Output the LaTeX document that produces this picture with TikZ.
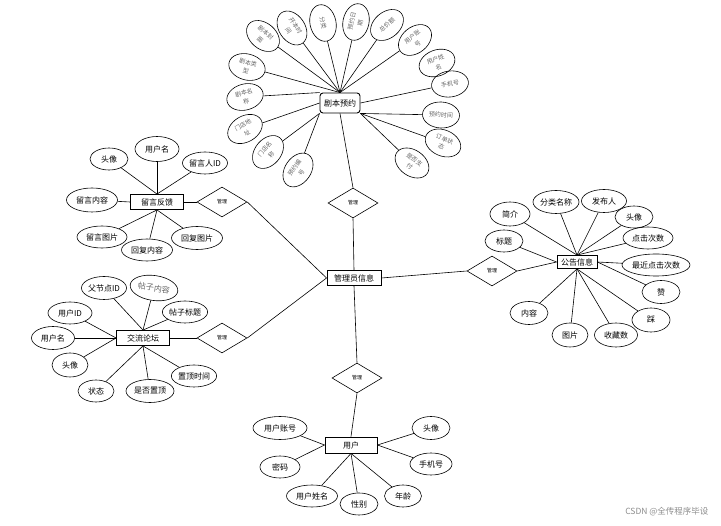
\documentclass[tikz,border=0pt]{standalone}
\usepackage{fontspec}
\newfontfamily\cjk{Noto Sans CJK SC}
\usetikzlibrary{shapes.geometric}
\begin{document}
\begin{tikzpicture}[x=1pt,y=-1pt,
  ent/.style={draw, line width=0.9pt, fill=white, inner sep=0pt, font=\cjk\fontsize{8}{9}\selectfont},
  att/.style 2 args={ellipse, draw, line width=0.6pt, minimum width=#1pt, minimum height=#2pt, inner sep=0pt, font=\cjk\fontsize{8}{9}\selectfont},
  tatt/.style={ellipse, draw, line width=0.6pt, minimum width=37pt, minimum height=26pt, inner sep=0pt, align=center, font=\cjk\fontsize{6}{8.6}\selectfont, text=black!60},
  rel/.style={diamond, draw, line width=0.6pt, minimum width=50pt, minimum height=30pt, inner sep=0pt, font=\cjk\fontsize{5}{6}\selectfont},
  ln/.style={line width=0.6pt}]
\useasboundingbox (0,0) rectangle (721,526);

% entities
\node[ent, minimum width=40pt, minimum height=20pt, rounded corners=3pt] (jb) at (340,103) {剧本预约};
\node[ent, minimum width=54pt, minimum height=15pt] (gly) at (354,278) {管理员信息};
\node[ent, minimum width=53pt, minimum height=15pt] (ly) at (157,202) {留言反馈};
\node[ent, minimum width=53pt, minimum height=15pt] (lt) at (143,338) {交流论坛};
\node[ent, minimum width=40pt, minimum height=13pt] (gg) at (577,262) {公告信息};
\node[ent, minimum width=52pt, minimum height=16pt] (yh) at (351,445) {用户};

% relations
\node[rel] (r1) at (353,203) {管理};
\node[rel] (r2) at (222,202) {管理};
\node[rel] (r3) at (222,338) {管理};
\node[rel] (r4) at (492,271) {管理};
\node[rel] (r5) at (357,378) {管理};

\draw[ln] (gly.north) -- (r1.south);
\draw[ln] (r1.north) -- (jb.south);
\draw[ln] (r2.east) -- (gly.west);
\draw[ln] (r3.east) -- (gly.west);
\draw[ln] (r4.west) -- (gly.east);
\draw[ln] (gly.south) -- (r5.north);
\draw[ln] (r5.south) -- (yh.north);
\draw[ln] (ly.east) -- (r2.west);
\draw[ln] (lt.east) -- (r3.west);
\draw[ln] (r4.east) -- (gg.west);

% top cluster
\node[tatt, rotate=-40] (t1) at (263,36) {剧本封\\面};
\node[tatt, rotate=-56] (t2) at (292,28) {开本时\\间};
\node[tatt, rotate=-78] (t3) at (323,23) {分类};
\node[tatt, rotate=78] (t4) at (356,22) {预约日\\期};
\node[tatt, rotate=40] (t5) at (387,25) {总价额};
\node[tatt, rotate=39] (t6) at (415,40) {用户账\\号};
\node[tatt, rotate=21] (t7) at (437,63) {用户姓\\名};
\node[tatt, rotate=8] (t8) at (450,84) {手机号};
\node[tatt, rotate=-3] (t9) at (441,115) {预约时间};
\node[tatt, rotate=-23] (t10) at (443,143) {订单状\\态};
\node[tatt, rotate=-35] (t11) at (412,163) {是否支\\付};
\node[tatt, rotate=55] (t12) at (298,170) {预约编\\号};
\node[tatt, rotate=50] (t13) at (268,152) {门店名\\称};
\node[tatt, rotate=30] (t14) at (245,129) {门店地\\址};
\node[tatt, rotate=15] (t15) at (245,97) {剧本名\\称};
\node[tatt, rotate=-15] (t16) at (247,67) {剧本类\\型};

\foreach \t in {t1,t2,t3,t4,t5,t6,t16} \draw[ln] (\t) -- (jb.north);
\draw[ln] (t15) -- (jb.north west);
\draw[ln] (t14) -- (jb.west);
\foreach \t in {t12,t13} \draw[ln] (\t) -- (jb.south west);
\draw[ln] (t8) -- (jb.east);
\foreach \t in {t9,t10,t11} \draw[ln] (\t) -- (jb.south east);

% 留言反馈
\node[att={38}{22}] (l1) at (109,159) {头像};
\node[att={44}{25}] (l2) at (157,149) {用户名};
\node[att={44}{22}] (l3) at (205,163) {留言人ID};
\node[att={51}{24}] (l4) at (92,200) {留言内容};
\node[att={50}{22}] (l5) at (102,237) {留言图片};
\node[att={51}{22}] (l6) at (147,250) {回复内容};
\node[att={51}{23}] (l7) at (197,238) {回复图片};
\foreach \t in {l1,l2,l3} \draw[ln] (\t) -- (ly.north);
\draw[ln] (l4) -- (ly.west);
\foreach \t in {l5,l6,l7} \draw[ln] (\t) -- (ly.south);

% 交流论坛
\node[att={45}{23}] (f1) at (104,288) {父节点ID};
\node[att={48}{25}, rotate=-8, text=black!60] (f2) at (154,288) {帖子内容};
\node[att={44}{22}] (f3) at (185,312) {帖子标题};
\node[att={44}{22}] (f4) at (70,313) {用户ID};
\node[att={43}{23}] (f5) at (53,338) {用户名};
\node[att={36}{24}] (f6) at (70,365) {头像};
\node[att={36}{22}] (f7) at (96,391) {状态};
\node[att={48}{23}] (f8) at (150,391) {是否置顶};
\node[att={43}{22}] (f9) at (194,376) {置顶时间};
\foreach \t in {f1,f2,f3} \draw[ln] (\t) -- (lt.north);
\foreach \t in {f4,f5,f6} \draw[ln] (\t) -- (lt.west);
\foreach \t in {f7,f8,f9} \draw[ln] (\t) -- (lt.south);

% 公告信息
\node[att={46}{23}] (g1) at (556,202) {分类名称};
\node[att={45}{23}] (g2) at (604,201) {发布人};
\node[att={40}{24}] (g3) at (510,214) {简介};
\node[att={38}{22}] (g4) at (634,217) {头像};
\node[att={38}{22}] (g5) at (504,241) {标题};
\node[att={50}{22}] (g6) at (648,238) {点击次数};
\node[att={68}{22}] (g7) at (656,265) {最近点击次数};
\node[att={38}{23}] (g8) at (661,292) {赞};
\node[att={38}{24}] (g9) at (651,320) {踩};
\node[att={38}{23}] (g10) at (529,313) {内容};
\node[att={36}{24}] (g11) at (570,335) {图片};
\node[att={43}{24}] (g12) at (616,335) {收藏数};
\foreach \t in {g1,g2,g3,g4,g6} \draw[ln] (\t) -- (gg.north);
\draw[ln] (g5) -- (gg.west);
\foreach \t in {g7,g8} \draw[ln] (\t) -- (gg.east);
\foreach \t in {g9,g10,g11,g12} \draw[ln] (\t) -- (gg.south);

% 用户
\node[att={54}{23}] (u1) at (280,428) {用户账号};
\node[att={40}{22}] (u2) at (280,467) {密码};
\node[att={51}{22}] (u3) at (312,496) {用户姓名};
\node[att={38}{22}] (u4) at (359,504) {性别};
\node[att={37}{22}] (u5) at (403,496) {年龄};
\node[att={38}{23}] (u6) at (431,428) {头像};
\node[att={42}{22}] (u7) at (431,464) {手机号};
\foreach \t in {u1,u2} \draw[ln] (\t) -- (yh.west);
\foreach \t in {u3,u4,u5} \draw[ln] (\t) -- (yh.south);
\foreach \t in {u6,u7} \draw[ln] (\t) -- (yh.east);

% watermark
\node[font=\cjk\fontsize{8.5}{10}\selectfont, text=black!45, anchor=east] (wm) at (712,512) {CSDN @全传程序毕设};
\end{tikzpicture}
\end{document}
